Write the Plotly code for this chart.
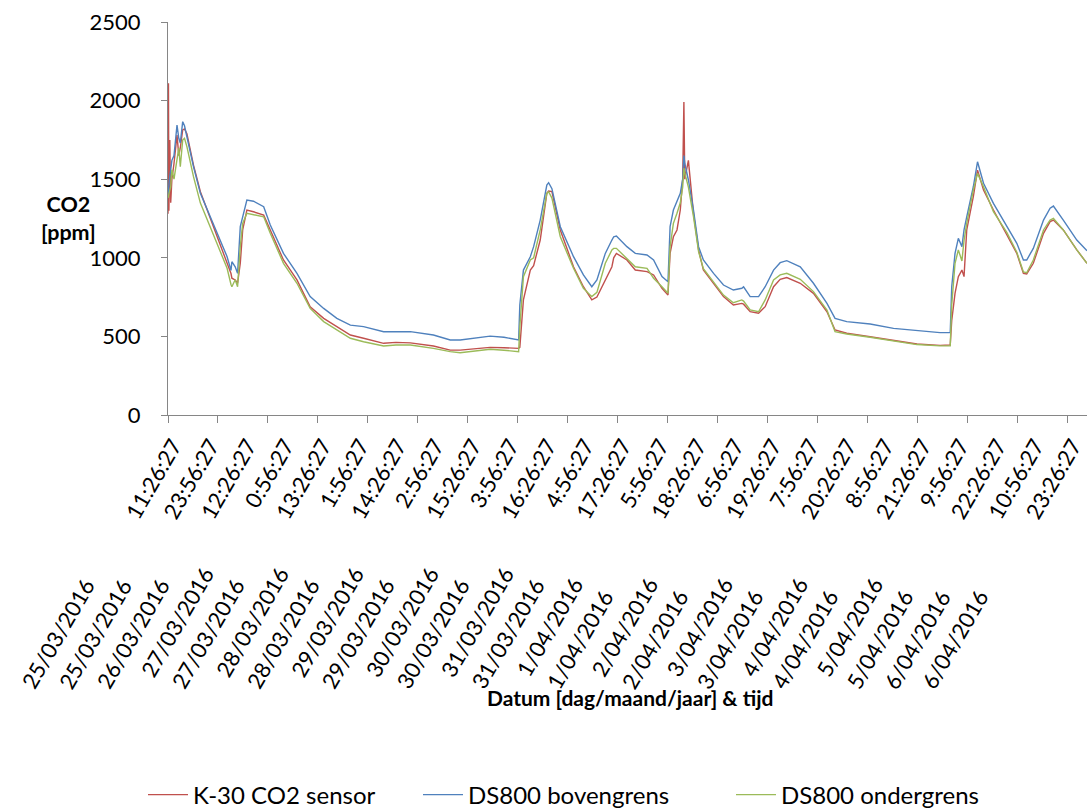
import plotly.graph_objects as go

# hours since 25/03/2016 11:26:27
hours = [0.0, 0.15, 0.3, 0.6, 0.9, 1.3, 2.0, 3.0, 3.6, 4.1, 4.9, 5.5, 6.3, 8.5, 10.8, 16.3,
         19.7, 21.0, 21.3, 22.4, 23.2, 24.1, 24.9, 26.3, 28.5, 31.9, 34.1, 38.5, 43.0, 47.4,
         51.9, 56.3, 60.8, 65.2, 71.9, 76.0, 80.8, 88.5, 94.1, 97.4, 102.0, 107.4, 112.0,
         116.9, 117.3, 118.5, 120.8, 121.9, 124.1, 126.3, 126.9, 128.0, 130.8, 135.2, 138.5,
         141.3, 143.0, 145.8, 148.0, 148.6, 149.5, 153.0, 155.8, 159.7, 161.9, 164.7, 166.7,
         167.4, 168.5, 169.7, 170.8, 171.6, 172.0, 172.3, 173.5, 175.2, 176.9, 178.5, 181.9,
         185.2, 188.5, 191.3, 191.9, 194.1, 196.9, 199.1, 201.9, 204.1, 206.3, 210.8, 215.2,
         219.7, 222.4, 226.3, 234.1, 241.9, 249.7, 257.4, 260.8, 261.3, 262.4, 263.5, 264.7,
         265.4, 266.3, 268.5, 269.9, 271.9, 275.2, 279.7, 283.0, 285.2, 286.3, 288.5, 291.9,
         294.1, 295.2, 298.5, 303.0, 306.4]

k30 = [1280, 2110, 1300, 1750, 1350, 1500, 1600, 1780, 1650, 1700, 1813, 1820, 1790, 1590, 1420, 1134,
       965, 900, 870, 859, 838, 965, 1177, 1304, 1293, 1272, 1177, 986, 859, 689,
       615, 562, 509, 488, 456, 462, 459, 439, 413, 413, 420, 430, 428,
       424, 430, 732, 922, 950, 1113, 1410, 1425, 1421, 1177, 943, 816,
       732, 750, 859, 943, 1000, 1028, 986, 922, 912, 891, 806, 763,
       1028, 1134, 1177, 1304, 1500, 1991, 1500, 1620, 1283, 1050, 922, 838,
       753, 700, 710, 705, 657, 647, 689, 816, 863, 874, 838, 774,
       657, 541, 520, 498, 473, 452, 443, 445, 600, 774, 880, 922,
       880, 1177, 1389, 1558, 1431, 1304, 1145, 1028, 901, 897, 965, 1156,
       1230, 1240, 1177, 1050, 965]

ds800_boven = [1400, 1450, 1490, 1520, 1560, 1620, 1650, 1845, 1760, 1730, 1866, 1840, 1770, 1580, 1410, 1156,
               1007, 920, 975, 943, 901, 1198, 1261, 1367, 1360, 1325, 1208, 1028, 901, 753,
               678, 615, 572, 562, 530, 532, 530, 509, 477, 477, 490, 502, 495,
               477, 700, 922, 1007, 1071, 1240, 1463, 1478, 1440, 1198, 1007, 891,
               816, 859, 1028, 1113, 1134, 1138, 1071, 1028, 1018, 986, 880, 848,
               1198, 1304, 1357, 1410, 1500, 1650, 1600, 1495, 1304, 1071, 986, 901,
               827, 795, 806, 815, 753, 753, 816, 922, 969, 982, 943, 838,
               710, 615, 594, 579, 551, 536, 524, 524, 816, 1028, 1124, 1071,
               1177, 1261, 1452, 1611, 1474, 1346, 1198, 1092, 986, 986, 1060, 1240,
               1315, 1329, 1240, 1113, 1045]

ds800_onder = [1380, 1400, 1410, 1430, 1450, 1560, 1500, 1620, 1700, 1580, 1749, 1760, 1707, 1516, 1348, 1093,
               933, 830, 816, 860, 816, 1071, 1219, 1283, 1275, 1261, 1156, 965, 838, 678,
               594, 540, 488, 466, 439, 445, 445, 424, 403, 396, 405, 418, 412,
               403, 560, 880, 986, 1000, 1177, 1410, 1420, 1380, 1134, 933, 806,
               753, 780, 965, 1050, 1060, 1060, 997, 943, 933, 870, 816, 774,
               1071, 1219, 1283, 1350, 1450, 1570, 1540, 1450, 1262, 1039, 930, 848,
               763, 714, 732, 725, 668, 657, 732, 859, 891, 901, 863, 785,
               668, 530, 515, 495, 470, 448, 440, 440, 700, 965, 1050, 980,
               1110, 1219, 1431, 1537, 1452, 1293, 1160, 1035, 910, 905, 986, 1177,
               1240, 1251, 1177, 1050, 965]

time_labels = ["11:26:27", "23:56:27", "12:26:27", "0:56:27", "13:26:27", "1:56:27", "14:26:27",
               "2:56:27", "15:26:27", "3:56:27", "16:26:27", "4:56:27", "17:26:27", "5:56:27",
               "18:26:27", "6:56:27", "19:26:27", "7:56:27", "20:26:27", "8:56:27", "21:26:27",
               "9:56:27", "22:26:27", "10:56:27", "23:26:27"]
date_labels = ["25/03/2016", "25/03/2016", "26/03/2016", "27/03/2016", "27/03/2016", "28/03/2016",
               "28/03/2016", "29/03/2016", "29/03/2016", "30/03/2016", "30/03/2016", "31/03/2016",
               "31/03/2016", "1/04/2016", "1/04/2016", "2/04/2016", "2/04/2016", "3/04/2016",
               "3/04/2016", "4/04/2016", "4/04/2016", "5/04/2016", "5/04/2016", "6/04/2016",
               "6/04/2016"]

label_step_h = 12.5          # 750 samples per label
tick_step_h = 1000 / 60.0    # 1000 samples per tick mark
label_pos = [label_step_h * i for i in range(len(time_labels))]
tick_pos = [tick_step_h * i for i in range(19)]

FONT = "Lato"
AXIS_GRAY = "#868686"
PLOT_L, PLOT_W, PLOT_B, PLOT_H = 168, 919, 415, 393
LABEL_ANGLE = -60

fig = go.Figure()
series = [("K-30 CO2 sensor", k30, "#C0504D", 220),
          ("DS800 bovengrens", ds800_boven, "#4F81BD", 258),
          ("DS800 ondergrens", ds800_onder, "#9BBB59", 210)]
for name, vals, col, lw in series:
    fig.add_trace(go.Scatter(x=hours, y=vals, mode="lines", name=name, legendwidth=lw,
                             line=dict(color=col, width=1.4)))
# helper trace so the tick-mark axis is drawn
fig.add_trace(go.Scatter(x=[None], y=[None], xaxis="x2", showlegend=False, hoverinfo="skip"))

annotations = []
for i, d in enumerate(date_labels):
    high = (i % 2 == 1) and (3 <= i <= 21)
    annotations.append(dict(
        x=label_pos[i], xref="x", y=0, yref="paper", text=d, showarrow=False,
        textangle=LABEL_ANGLE, xanchor="left", yanchor="bottom",
        xshift=-155 + (7 if high else 0), yshift=-281 + (12 if high else 0),
        font=dict(family=FONT, size=22, color="black")))
annotations.append(dict(text="<b>CO2<br>[ppm]</b>", x=(68 - PLOT_L) / PLOT_W,
                        y=(PLOT_B - 218) / PLOT_H, xref="paper", yref="paper",
                        xanchor="center", yanchor="middle", showarrow=False,
                        font=dict(family=FONT, size=21.5, color="black")))
annotations.append(dict(text="<b>Datum [dag/maand/jaar] &amp; tijd</b>",
                        x=(630 - PLOT_L) / PLOT_W, y=-(697 - PLOT_B) / PLOT_H,
                        xref="paper", yref="paper", xanchor="center", yanchor="middle",
                        showarrow=False, font=dict(family=FONT, size=21, color="black")))

fig.update_layout(
    width=1087, height=811,
    margin=dict(l=PLOT_L, r=0, t=22, b=396, autoexpand=False),
    paper_bgcolor="white", plot_bgcolor="white",
    font=dict(family=FONT, size=21, color="black"),
    showlegend=True,
    legend=dict(orientation="h", x=(143 - PLOT_L) / PLOT_W, xanchor="left",
                y=-(795 - PLOT_B) / PLOT_H, yanchor="middle",
                font=dict(family=FONT, size=24, color="black"), itemwidth=40),
    xaxis=dict(range=[0, 306.4], tickmode="array", tickvals=label_pos, ticktext=time_labels,
               tickangle=LABEL_ANGLE, ticks="", showline=True, linecolor=AXIS_GRAY, linewidth=1.3,
               showgrid=False, zeroline=False, automargin=False,
               ticklabelstandoff=8, ticklabelshift=5,
               tickfont=dict(family=FONT, size=22, color="black")),
    xaxis2=dict(range=[0, 306.4], overlaying="x", anchor="y", side="bottom",
                tickmode="array", tickvals=tick_pos, showticklabels=False, ticks="outside",
                ticklen=7, tickwidth=1.3, tickcolor=AXIS_GRAY, showline=False, showgrid=False,
                zeroline=False, automargin=False),
    yaxis=dict(range=[0, 2500], tickmode="linear", tick0=0, dtick=500, ticks="outside",
               ticklen=6, tickwidth=1.3, tickcolor=AXIS_GRAY, showline=True, linecolor=AXIS_GRAY,
               linewidth=1.3, showgrid=False, zeroline=False, ticklabelstandoff=16,
               automargin=False, tickfont=dict(family=FONT, size=22, color="black")),
    annotations=annotations,
)

fig.write_html("out.html", config={"displayModeBar": False},
               post_script="document.body.style.margin='0';")
